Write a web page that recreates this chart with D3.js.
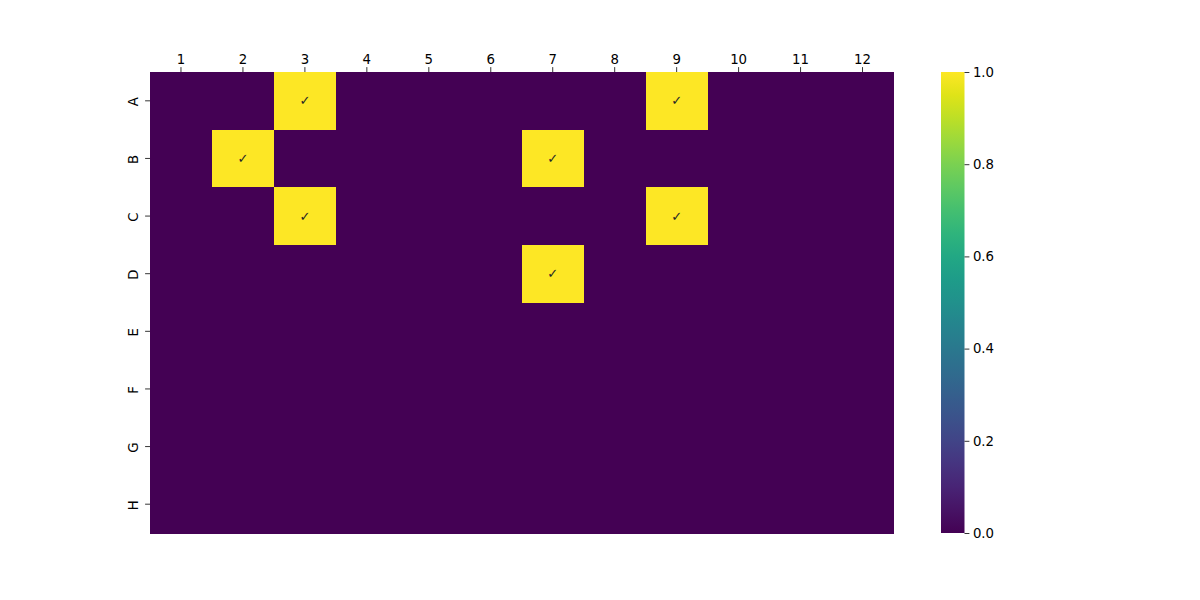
<!DOCTYPE html>
<html><head><meta charset="utf-8">
<script src="https://cdn.jsdelivr.net/npm/d3@7"></script>
<style>body{margin:0;background:#fff;} text{font-family:"DejaVu Sans",sans-serif;}</style>
</head><body><svg id="c" width="1200" height="600"></svg>
<script>
const rows = ["A","B","C","D","E","F","G","H"];
const cols = ["1","2","3","4","5","6","7","8","9","10","11","12"];
const rowA = [0,0,1,0,0,0,0,0,1,0,0,0];
const rowB = [0,1,0,0,0,0,1,0,0,0,0,0];
const rowC = [0,0,1,0,0,0,0,0,1,0,0,0];
const rowD = [0,0,0,0,0,0,1,0,0,0,0,0];
const rowE = [0,0,0,0,0,0,0,0,0,0,0,0];
const rowF = [0,0,0,0,0,0,0,0,0,0,0,0];
const rowG = [0,0,0,0,0,0,0,0,0,0,0,0];
const rowH = [0,0,0,0,0,0,0,0,0,0,0,0];
const matrix = [rowA,rowB,rowC,rowD,rowE,rowF,rowG,rowH];
const cbTicks = [0,0.2,0.4,0.6,0.8,1.0];

const svg = d3.select("#c");
const L=150, R=893.5, T=72, B=533;
const x = d3.scaleBand().domain(cols).range([L,R]);
const y = d3.scaleBand().domain(rows).range([T,B]);
const color = d3.scaleSequential(d3.interpolateViridis).domain([0,1]);

const cells = [];
matrix.forEach((r,i)=>r.forEach((v,j)=>cells.push({r:rows[i],c:cols[j],v})));
svg.append("g").attr("shape-rendering","crispEdges").selectAll("rect").data(cells).join("rect")
  .attr("x",d=>x(d.c)).attr("y",d=>y(d.r))
  .attr("width",x.bandwidth()+0.5).attr("height",y.bandwidth()+0.5)
  .attr("fill",d=>color(d.v));
svg.append("g").selectAll("text").data(cells.filter(d=>d.v===1)).join("text")
  .attr("x",d=>x(d.c)+x.bandwidth()/2).attr("y",d=>y(d.r)+y.bandwidth()/2)
  .attr("text-anchor","middle").attr("dominant-baseline","central")
  .attr("font-size","13px").attr("fill","#262626").text("✓");

const xa = svg.append("g").attr("transform",`translate(0,${T})`)
  .call(d3.axisTop(x).tickSize(4.9).tickPadding(3.5));
const ya = svg.append("g").attr("transform",`translate(${L},0)`)
  .call(d3.axisLeft(y).tickSize(4.9).tickPadding(3.5));
[xa,ya].forEach(a=>{a.select(".domain").remove();a.selectAll("text").attr("font-size","13.3px").attr("fill","#000").attr("font-family","DejaVu Sans");a.selectAll("line").attr("stroke","#000").attr("stroke-width",0.8);});
ya.selectAll(".tick text").each(function(){
  const t=d3.select(this); t.attr("text-anchor","middle").attr("dy",null).attr("dominant-baseline","auto")
   .attr("x",0).attr("y",0).attr("transform","translate(-12.5,1) rotate(-90)");
});

// colorbar
const cx0=941, cx1=964.5;
const defs = svg.append("defs");
const grad = defs.append("linearGradient").attr("id","g").attr("x1","0").attr("y1","1").attr("x2","0").attr("y2","0");
d3.range(0,1.0001,0.05).forEach(t=>grad.append("stop").attr("offset",t).attr("stop-color",color(t)));
const cy = d3.scaleLinear().domain([0,1]).range([B,T]);
svg.append("rect").attr("x",cx0).attr("y",T).attr("width",cx1-cx0).attr("height",B-T).attr("fill","url(#g)");
const ca = svg.append("g").attr("transform",`translate(${cx1},0)`)
  .call(d3.axisRight(cy).tickValues(cbTicks).tickFormat(d3.format(".1f")).tickSize(4.9).tickPadding(3.5));
ca.select(".domain").remove();
ca.selectAll("text").attr("font-size","13.3px").attr("fill","#000").attr("font-family","DejaVu Sans");
ca.selectAll("line").attr("stroke","#000").attr("stroke-width",0.8);
</script></body></html>
